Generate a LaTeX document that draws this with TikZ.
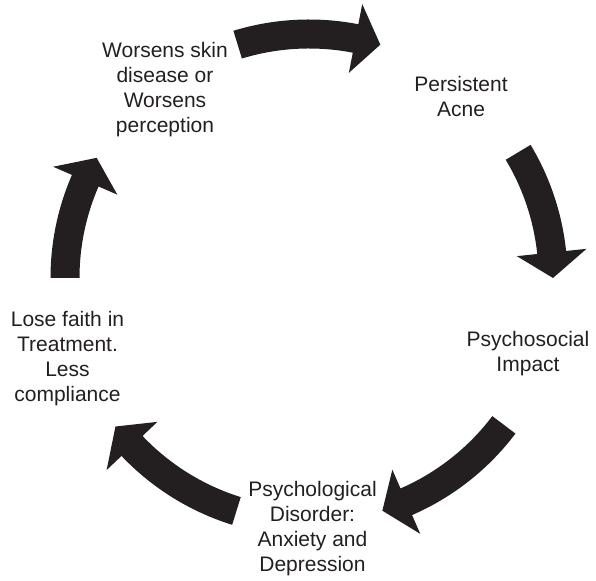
\documentclass[tikz,border=0pt]{standalone}
\usepackage{fontspec}
\setmainfont{Liberation Sans}
\usepackage{tikz}
\definecolor{cycleblack}{RGB}{35, 31, 32}

\begin{document}
\begin{tikzpicture}[x=1pt, y=1pt,
        stage/.style={align=center, text=cycleblack, font=\fontsize{21}{25}\selectfont},
        bigarrow/.style={fill=cycleblack, draw=none}]
        \useasboundingbox (0,0) rectangle (596,580);
        \coordinate (hub) at (309,302);
        \node[stage] (worsens) at (165,490) {Worsens skin\\disease or\\Worsens\\perception};
        \node[stage] (acne) at (461,483) {Persistent\\Acne};
        \node[stage] (impact) at (528,226) {Psychosocial\\Impact};
        \node[stage] (disorder) at (312.5,51) {Psychological\\Disorder:\\Anxiety and\\Depression};
        \node[stage] (faith) at (67.5,221) {Lose faith in\\Treatment.\\Less\\compliance};
        \foreach \s/\t in {107/73, 31/0, -37/-72.5, -107.3/-142.5, 180/150.5} {
            \pgfmathsetmacro{\b}{\t+6}
            \fill[bigarrow, shift={(hub)}] (\s:258.5) arc[start angle=\s, end angle=\b, radius=258.5]
                -- (\b:279) -- (\t:244) -- (\b:209) -- (\b:229.5)
                arc[start angle=\b, end angle=\s, radius=229.5] -- cycle;
        }
    \end{tikzpicture}
\end{document}
